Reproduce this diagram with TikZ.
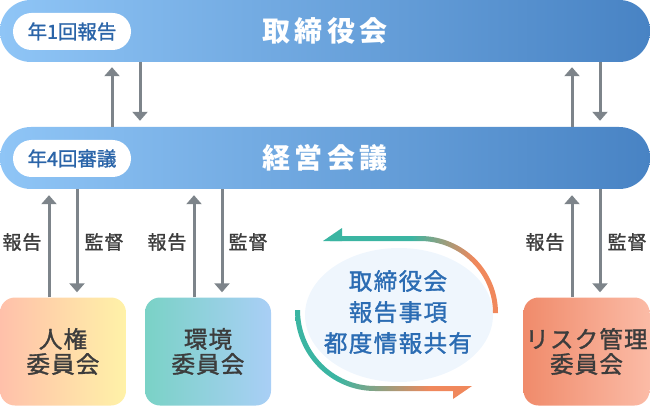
\documentclass[tikz,border=0pt]{standalone}
\usepackage{fontspec}
\setmainfont{Noto Sans CJK JP}
\newfontfamily\medfont{Noto Sans CJK JP}[FakeBold=1.4]
\usetikzlibrary{arrows.meta,shapes.geometric}
\definecolor{barL}{HTML}{8FC5F6}
\definecolor{barR}{HTML}{4883C4}
\definecolor{pilltxt}{HTML}{2A64A8}
\definecolor{ctrtxt}{HTML}{2B6CB3}
\definecolor{gline}{HTML}{7D848A}
\definecolor{labtxt}{HTML}{3C3C3C}
\definecolor{tealc}{HTML}{3BB5A2}
\definecolor{orangec}{HTML}{F0885C}
\definecolor{hrA}{HTML}{FFC0AA}
\definecolor{hrB}{HTML}{FFF2A8}
\definecolor{envA}{HTML}{7AD2C6}
\definecolor{envB}{HTML}{A9CFF6}
\definecolor{rkA}{HTML}{F08B6B}
\definecolor{rkB}{HTML}{FBBBA6}
\definecolor{blob}{HTML}{EFF6FD}
\pgfdeclarehorizontalshading{cycA}{100bp}{color(0bp)=(tealc); color(50bp)=(tealc); color(68bp)=(orangec); color(100bp)=(orangec)}
\pgfdeclarehorizontalshading{cycB}{100bp}{color(0bp)=(tealc); color(37bp)=(tealc); color(63bp)=(orangec); color(100bp)=(orangec)}
\tikzset{
  bar/.style={shade, left color=barL, right color=barR, rounded corners=30.9pt,
    minimum width=650pt, minimum height=62pt, inner sep=0pt, text=white,
    font=\fontsize{28}{30}\selectfont\bfseries\addfontfeatures{LetterSpace=15}},
  pill/.style={fill=white, rounded corners=18.5pt, minimum width=118pt, minimum height=37pt,
    inner sep=0pt, text=pilltxt, font=\fontsize{19.5}{21}\selectfont\medfont},
  garrow/.style={draw=gline, line width=3pt, -{Triangle[width=15pt,length=9pt]}},
  lab/.style={text=labtxt, font=\fontsize{19}{20}\selectfont\medfont\addfontfeatures{LetterSpace=5}},
  cbox/.style={rounded corners=15pt, minimum width=126pt, minimum height=108pt, inner sep=0pt,
    text=labtxt, align=center,
    font=\fontsize{23.5}{25}\selectfont\medfont\addfontfeatures{LetterSpace=5}},
  ctr/.style={text=ctrtxt, align=center,
    font=\fontsize{23.5}{31}\selectfont\medfont\addfontfeatures{LetterSpace=6}}
}
\begin{document}
\begin{tikzpicture}[x=1pt,y=-1pt]
\useasboundingbox (0,0) rectangle (650,406);
% bars
\node[bar] (b1) at (325,31) {取締役会};
\node[bar] (b2) at (325,158) {経営会議};
\node[pill] (p1) at (72,31.5) {年1回報告};
\node[pill] (p2) at (72,158.5) {年4回審議};
% committee boxes
\node[cbox, shading=axis, shading angle=-60, left color=hrA, right color=hrB] (hr) at (63,351.5) {人権\\委員会};
\node[cbox, shading=axis, left color=envA, right color=envB] (env) at (208,351.5) {環境\\委員会};
\node[cbox, shading=axis, left color=rkA, right color=rkB] (rk) at (586.5,351.5) {リスク管理\\委員会};
% arrows between bars
\draw[garrow, shorten >=5pt] (b2.north -| 112,0) -- (b1.south -| 112,0);
\draw[garrow, shorten >=6pt] (b1.south -| 140,0) -- (b2.north -| 140,0);
\draw[garrow, shorten >=5pt] (b2.north -| 572,0) -- (b1.south -| 572,0);
\draw[garrow, shorten >=6pt] (b1.south -| 600,0) -- (b2.north -| 600,0);
% arrows to committees
\draw[garrow, shorten >=6pt] (hr.north -| 49,0) -- (b2.south -| 49,0);
\draw[garrow, shorten >=5pt] (b2.south -| 77,0) -- (hr.north -| 77,0);
\draw[garrow, shorten >=6pt] (env.north -| 194,0) -- (b2.south -| 194,0);
\draw[garrow, shorten >=5pt] (b2.south -| 222,0) -- (env.north -| 222,0);
\draw[garrow, shorten >=6pt] (rk.north -| 572,0) -- (b2.south -| 572,0);
\draw[garrow, shorten >=5pt] (b2.south -| 600,0) -- (rk.north -| 600,0);
% labels
\node[lab] (l1) at (22,242) {報告};
\node[lab] (l2) at (104,242) {監督};
\node[lab] (l3) at (167,242) {報告};
\node[lab] (l4) at (248,242) {監督};
\node[lab] (l5) at (545,242) {報告};
\node[lab] (l6) at (627,242) {監督};
% center blob
\fill[blob] (399,315) ellipse[x radius=94, y radius=67];
\node[ctr] (ct) at (398,312) {取締役会\\報告事項\\都度情報共有};
% cycle arrows
\begin{scope}
\clip (330,236) -- (420,236) .. controls (463.1,236) and (498,270.5) .. (498,313)
  -- (493,313) .. controls (493,273.2) and (460.3,241) .. (420,241) -- (330,241) -- cycle;
\shade[shading=cycA] (323,226) rectangle (499,316);
\end{scope}
\fill[tealc] (323,241) -- (342,228) -- (342,241) -- cycle;
\begin{scope}
\clip (295,310) .. controls (295,354.7) and (330.8,391) .. (375,391) -- (456,391) -- (456,386)
  -- (375,386) .. controls (333.6,386) and (300,352) .. (300,310) -- cycle;
\shade[shading=cycB] (294,305) rectangle (473,400);
\end{scope}
\fill[orangec] (472,386) -- (453,386) -- (453,399) -- cycle;
\end{tikzpicture}
\end{document}
